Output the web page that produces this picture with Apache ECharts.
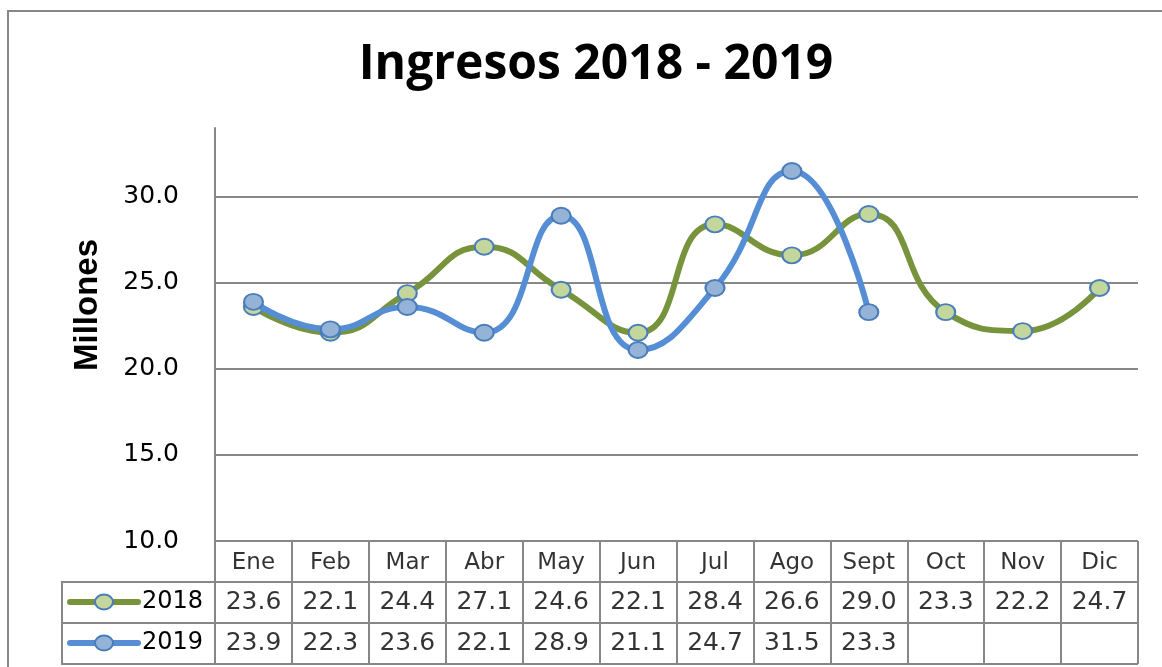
<!DOCTYPE html>
<html>
<head>
<meta charset="utf-8">
<script src="https://cdn.jsdelivr.net/npm/echarts@6/dist/echarts.min.js"></script>
<style>
  html, body { margin: 0; padding: 0; background: #fff; }
  #main { width: 1162px; height: 667px; }
</style>
</head>
<body>
<div id="main"></div>
<script>
// datos
const meses = ['Ene', 'Feb', 'Mar', 'Abr', 'May', 'Jun', 'Jul', 'Ago', 'Sept', 'Oct', 'Nov', 'Dic'];
const ingresos2018 = [23.6, 22.1, 24.4, 27.1, 24.6, 22.1, 28.4, 26.6, 29.0, 23.3, 22.2, 24.7];
const ingresos2019 = [23.9, 22.3, 23.6, 22.1, 28.9, 21.1, 24.7, 31.5, 23.3, null, null, null];
const ticksY = [10, 15, 20, 25, 30];

const gris = '#878787';
const verde = '#77933C';
const verdeClaro = '#C3D69B';
const azul = '#558ED5';
const azulClaro = '#95B3D7';
const borde = '#4A7EBB';
const fuenteTabla = 'DejaVu Sans';

let myChart = echarts.init(document.getElementById('main'));

// filas de la tabla de datos (texto dibujado con las escalas de la 2a rejilla)
function filaTexto(valores, fila) {
  return valores.map((v, i) => [meses[i], fila, v]).filter(d => d[2] !== null);
}

// clave de leyenda en la tabla
function clave(y, color, relleno, texto) {
  return [
    { type: 'line', shape: { x1: 70, y1: y, x2: 138, y2: y },
      style: { stroke: color, lineWidth: 6, lineCap: 'round' } },
    { type: 'ellipse', shape: { cx: 104, cy: y, rx: 9, ry: 7.5 },
      style: { fill: relleno, stroke: borde, lineWidth: 2 } },
    { type: 'text', x: 142, y: y, style: { text: texto, font: '24px "DejaVu Sans"', fill: '#000', verticalAlign: 'middle' } }
  ];
}

myChart.setOption({
  animation: false,
  title: {
    text: 'Ingresos 2018 - 2019',
    top: 36,
    left: 591,
    textAlign: 'center',
    textStyle: { fontFamily: 'Open Sans', fontWeight: 'bold', fontSize: 48, color: '#000' }
  },
  grid: [
    { left: 215, right: 24, top: 128, height: 413 },
    { left: 215, right: 24, top: 541, height: 123 }
  ],
  xAxis: [
    {
      type: 'category', gridIndex: 0, data: meses, boundaryGap: true,
      axisLine: { show: false }, axisTick: { show: false }, axisLabel: { show: false }
    },
    {
      type: 'category', gridIndex: 1, data: meses, boundaryGap: true,
      axisLine: { show: false }, axisTick: { show: false }, axisLabel: { show: false },
      splitLine: { show: true, lineStyle: { color: gris, width: 2 } }
    }
  ],
  yAxis: [
    {
      type: 'value', gridIndex: 0, min: 10, max: 34, interval: 5,
      axisLine: { show: true, lineStyle: { color: gris, width: 2 } },
      axisTick: { show: false },
      axisLabel: {
        margin: 36, color: '#000', fontFamily: fuenteTabla, fontSize: 25, showMaxLabel: false,
        formatter: v => ticksY.includes(v) ? v.toFixed(1) : ''
      },
      splitLine: { show: true, lineStyle: { color: [gris, gris, gris, gris, gris, 'rgba(0,0,0,0)'], width: 2 } }
    },
    {
      type: 'value', gridIndex: 1, min: 0, max: 3, interval: 1, inverse: true,
      axisLine: { show: true, lineStyle: { color: gris, width: 2 } },
      axisTick: { show: false }, axisLabel: { show: false },
      splitLine: { show: true, lineStyle: { color: gris, width: 2 } }
    }
  ],
  series: [
    {
      name: '2018', type: 'line', smooth: 0.5, data: ingresos2018,
      symbol: 'circle', symbolSize: [19, 16],
      lineStyle: { color: verde, width: 6 },
      itemStyle: { color: verdeClaro, borderColor: borde, borderWidth: 2 },
      z: 3
    },
    {
      name: '2019', type: 'line', smooth: 0.5, data: ingresos2019, connectNulls: false,
      symbol: 'circle', symbolSize: [19, 16],
      lineStyle: { color: azul, width: 6 },
      itemStyle: { color: azulClaro, borderColor: borde, borderWidth: 2 },
      z: 4
    },
    {
      type: 'scatter', xAxisIndex: 1, yAxisIndex: 1, symbolSize: 0, silent: true,
      data: meses.map(m => [m, 0.5, m]),
      label: { show: true, position: 'inside', formatter: p => p.value[2], offset: [0, 2],
        fontFamily: fuenteTabla, fontSize: 23, color: '#000' }
    },
    {
      type: 'scatter', xAxisIndex: 1, yAxisIndex: 1, symbolSize: 0, silent: true,
      data: filaTexto(ingresos2018, 1.5),
      label: { show: true, position: 'inside', formatter: p => p.value[2].toFixed(1),
        fontFamily: fuenteTabla, fontSize: 25, color: '#000' }
    },
    {
      type: 'scatter', xAxisIndex: 1, yAxisIndex: 1, symbolSize: 0, silent: true,
      data: filaTexto(ingresos2019, 2.5),
      label: { show: true, position: 'inside', formatter: p => p.value[2].toFixed(1),
        fontFamily: fuenteTabla, fontSize: 25, color: '#000' }
    }
  ],
  graphic: [
    // marco exterior
    { type: 'rect', shape: { x: 8, y: 11, width: 1170, height: 700 },
      style: { fill: 'none', stroke: gris, lineWidth: 2 }, silent: true },
    // titulo del eje
    { type: 'text', x: 88, y: 305, rotation: Math.PI / 2,
      style: { text: 'Millones', font: 'bold 33px "Liberation Sans"', fill: '#000',
        align: 'center', verticalAlign: 'middle' } },
    // celdas de la leyenda
    { type: 'line', shape: { x1: 62, y1: 582, x2: 215, y2: 582 }, style: { stroke: gris, lineWidth: 2 } },
    { type: 'line', shape: { x1: 62, y1: 623, x2: 215, y2: 623 }, style: { stroke: gris, lineWidth: 2 } },
    { type: 'line', shape: { x1: 62, y1: 664, x2: 215, y2: 664 }, style: { stroke: gris, lineWidth: 2 } },
    { type: 'line', shape: { x1: 62, y1: 581, x2: 62, y2: 665 }, style: { stroke: gris, lineWidth: 2 } },
    ...clave(602, verde, verdeClaro, '2018'),
    ...clave(643, azul, azulClaro, '2019')
  ]
});
</script>
</body>
</html>
